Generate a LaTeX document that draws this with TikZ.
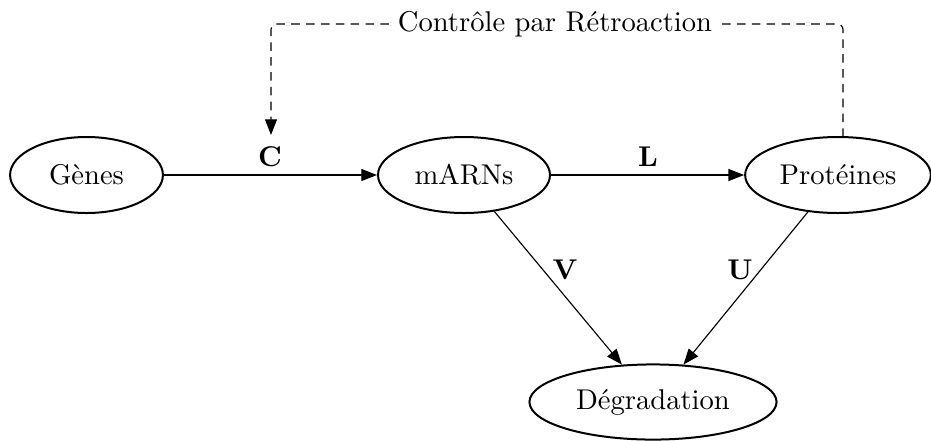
\documentclass[tikz,border=0pt]{standalone}
\usetikzlibrary{shapes.geometric,arrows.meta}
\begin{document}
\begin{tikzpicture}[x=0.35pt,y=-0.35pt,
  state/.style={ellipse,draw,line width=0.7pt,inner sep=0pt,minimum height=26.6pt},
  arr/.style={line width=0.4pt,-{Triangle[length=5.5pt,width=4.2pt]}},
  lbl/.style={font=\bfseries,inner sep=0pt},
  fb/.style={line width=0.4pt,dash pattern=on 3pt off 2.2pt,rounded corners=2pt,-{Triangle[length=5.5pt,width=4.2pt]}}]
\useasboundingbox (0,0) rectangle (931,440);
\node[state,minimum width=53.5pt] (g) at (86.5,175) {Gènes};
\node[state,minimum width=60.2pt] (m) at (464,175) {mARNs};
\node[state,minimum width=65pt] (p) at (838,175) {Protéines};
\node[state,minimum width=86.5pt,minimum height=26.3pt] (d) at (653,402) {Dégradation};
\draw[arr] (g) -- (m);
\draw[arr] (m) -- (p);
\draw[arr] (m) -- (d);
\draw[arr] (p) -- (d);
\node[lbl] (lc) at (270,157) {C};
\node[lbl] (ll) at (648,157) {L};
\node[lbl] (lv) at (565,270) {V};
\node[lbl] (lu) at (740,270) {U};
\coordinate (fs) at (843,137);
\coordinate (fe) at (271,135);
\draw[fb] (fs) -- (843,24) -- (271,24) -- (fe);
\node[fill=white,inner sep=2pt] (ft) at (555,24) {Contrôle par Rétroaction};
\end{tikzpicture}
\end{document}
